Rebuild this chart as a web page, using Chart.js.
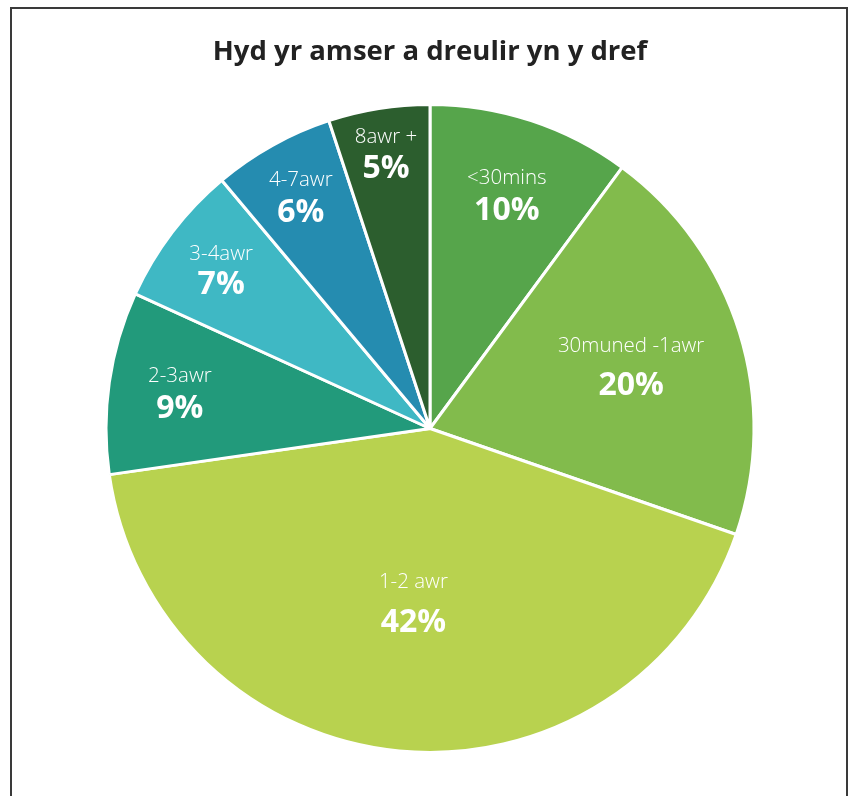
<!DOCTYPE html>
<html>
<head>
<meta charset="utf-8">
<script src="https://cdn.jsdelivr.net/npm/chart.js@4.4.1/dist/chart.umd.min.js"></script>
<style>
  html, body { margin: 0; padding: 0; background: #fff; }
  #wrap { position: relative; width: 854px; height: 796px; overflow: hidden; }
  #frame {
    position: absolute; left: 10px; top: 7px; width: 834px; height: 800px;
    border: 2px solid #3a3a3a; border-bottom: none;
  }
  #pieChart { position: absolute; left: 0; top: 0; }
</style>
</head>
<body>
<div id="wrap">
  <div id="frame"></div>
  <canvas id="pieChart" width="854" height="796"></canvas>
</div>
<script>
const titulo = "Hyd yr amser a dreulir yn y dref";
const categorias = ["<30mins", "30muned -1awr", "1-2 awr", "2-3awr", "3-4awr", "4-7awr", "8awr +"];
const porcentajes = [10, 20, 42, 9, 7, 6, 5];
const colores = ["#56a54b", "#82bb4c", "#b8d24f", "#229a7b", "#3fb8c4", "#258cb0", "#2c5e2e"];

// where each label sits, as a fraction of the radius, and the gap between its two lines
const radioEtiqueta = [0.76, 0.65, 0.54, 0.78, 0.81, 0.82, 0.86];
const separacion = [33, 40, 41, 33, 31, 33, 32];

const etiquetasPlugin = {
  id: "etiquetas",
  afterDatasetsDraw(chart) {
    const ctx = chart.ctx;
    const arcs = chart.getDatasetMeta(0).data;
    ctx.save();
    ctx.fillStyle = "#ffffff";
    ctx.textAlign = "center";
    ctx.textBaseline = "middle";
    arcs.forEach((arc, i) => {
      const p = arc.getProps(["x", "y", "startAngle", "endAngle", "outerRadius"], true);
      const mid = (p.startAngle + p.endAngle) / 2;
      const r = p.outerRadius * radioEtiqueta[i];
      const cx = p.x + Math.cos(mid) * r;
      const cy = p.y + Math.sin(mid) * r;
      const g = separacion[i] / 2;
      ctx.font = "300 20.5px 'Open Sans', sans-serif";
      ctx.fillText(categorias[i], cx, cy - g);
      ctx.font = "bold 32px 'Open Sans', sans-serif";
      ctx.fillText(porcentajes[i] + "%", cx, cy + g);
    });
    ctx.restore();
  }
};

const ctx = document.getElementById("pieChart").getContext("2d");
new Chart(ctx, {
  type: "pie",
  data: {
    labels: categorias,
    datasets: [{
      data: porcentajes,
      backgroundColor: colores,
      borderColor: "#ffffff",
      borderWidth: 3
    }]
  },
  options: {
    responsive: false,
    animation: false,
    layout: { padding: { top: 0, bottom: 42, left: 60, right: 54 } },
    plugins: {
      legend: { display: false },
      tooltip: { enabled: false },
      title: {
        display: true,
        text: titulo,
        color: "#222222",
        font: { family: "'Open Sans', sans-serif", size: 27.5, weight: "bold", lineHeight: 1.2 },
        padding: { top: 36, bottom: 34 }
      }
    }
  },
  plugins: [etiquetasPlugin]
});
</script>
</body>
</html>
